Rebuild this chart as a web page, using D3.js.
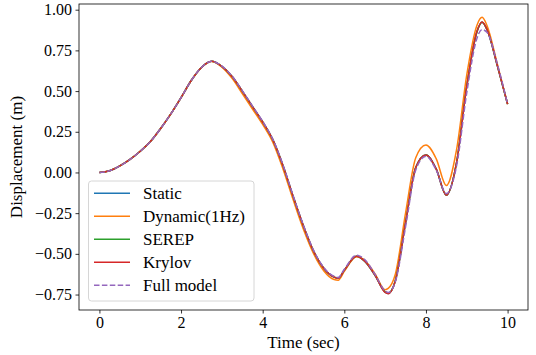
<!DOCTYPE html>
<html>
<head>
<meta charset="utf-8">
<script src="https://cdn.jsdelivr.net/npm/d3@7"></script>
<style>
  html, body { margin: 0; padding: 0; background: #fff; }
  svg { display: block; }
  svg text { font-family: "Liberation Serif", "Times New Roman", serif; }
</style>
</head>
<body>
<svg id="chart" width="536" height="355"></svg>
<script>
// Sample times (s), with extra samples at the turning points
const time = [0, 0.25, 0.5, 0.75, 1, 1.25, 1.5, 1.75, 2, 2.25, 2.5, 2.75, 3, 3.25, 3.5, 3.75,
  4, 4.25, 4.5, 4.75, 5, 5.25, 5.5, 5.75, 5.85, 6, 6.3, 6.5, 6.75, 7, 7.075, 7.25, 7.5, 7.75,
  8, 8.25, 8.5, 8.75, 9, 9.25, 9.375, 9.5, 9.75, 10];

// Displacement (m) of each reduced model and the full model
const staticModel = [0, 0.01, 0.04, 0.08, 0.13, 0.19, 0.27, 0.36, 0.46, 0.565, 0.645, 0.683, 0.652, 0.59, 0.50, 0.405,
  0.31, 0.20, 0.04, -0.15, -0.33, -0.485, -0.59, -0.643, -0.65, -0.6, -0.515, -0.545, -0.63, -0.735, -0.743, -0.665, -0.31, 0.03,
  0.108, 0.022, -0.14, 0.06, 0.53, 0.865, 0.923, 0.875, 0.655, 0.42];
const dynamic1Hz = [0, 0.01, 0.04, 0.08, 0.13, 0.19, 0.27, 0.36, 0.46, 0.565, 0.645, 0.682, 0.647, 0.578, 0.485, 0.39,
  0.295, 0.185, 0.02, -0.17, -0.35, -0.50, -0.605, -0.658, -0.662, -0.608, -0.518, -0.54, -0.622, -0.72, -0.712, -0.625, -0.25, 0.09,
  0.168, 0.085, -0.08, 0.14, 0.60, 0.905, 0.953, 0.9, 0.665, 0.42];
const serep = [0, 0.01, 0.04, 0.08, 0.13, 0.19, 0.27, 0.36, 0.46, 0.565, 0.645, 0.683, 0.652, 0.59, 0.50, 0.405,
  0.31, 0.20, 0.04, -0.15, -0.33, -0.485, -0.59, -0.643, -0.65, -0.6, -0.515, -0.545, -0.63, -0.735, -0.743, -0.665, -0.31, 0.03,
  0.108, 0.022, -0.14, 0.06, 0.53, 0.865, 0.923, 0.875, 0.655, 0.42];
const krylov = [0, 0.01, 0.04, 0.08, 0.13, 0.19, 0.27, 0.36, 0.46, 0.565, 0.645, 0.683, 0.652, 0.59, 0.50, 0.405,
  0.31, 0.20, 0.04, -0.15, -0.33, -0.485, -0.59, -0.643, -0.65, -0.6, -0.515, -0.545, -0.63, -0.737, -0.745, -0.667, -0.31, 0.03,
  0.108, 0.022, -0.14, 0.06, 0.53, 0.867, 0.925, 0.877, 0.655, 0.42];
const fullModel = [0, 0.01, 0.04, 0.08, 0.13, 0.19, 0.27, 0.36, 0.46, 0.565, 0.645, 0.683, 0.653, 0.592, 0.503, 0.408,
  0.313, 0.203, 0.045, -0.145, -0.325, -0.48, -0.585, -0.638, -0.645, -0.595, -0.508, -0.535, -0.625, -0.728, -0.738, -0.672, -0.335, 0.015,
  0.10, 0.015, -0.13, 0.04, 0.49, 0.825, 0.878, 0.86, 0.665, 0.42];

const seriesNames = ["Static", "Dynamic(1Hz)", "SEREP", "Krylov", "Full model"];
const seriesColors = ["#1f77b4", "#ff7f0e", "#2ca02c", "#d62728", "#9467bd"];
const seriesValues = [staticModel, dynamic1Hz, serep, krylov, fullModel];
const seriesDash = [null, null, null, null, "5.5,2.4"];

const xTicks = [0, 2, 4, 6, 8, 10];
const yTicks = [-0.75, -0.5, -0.25, 0, 0.25, 0.5, 0.75, 1.0];

const serif = "'Liberation Serif', 'Times New Roman', serif";
const svg = d3.select("#chart");
const plot = { left: 79, right: 528, top: 4, bottom: 310 };

const x = d3.scaleLinear().domain([-0.5, 10.5]).range([plot.left, plot.right]);
const y = d3.scaleLinear().domain([-0.845, 1.035]).range([plot.bottom, plot.top]);

const line = d3.line()
  .x((d, i) => x(time[i]))
  .y(d => y(d))
  .curve(d3.curveMonotoneX);

svg.append("clipPath").attr("id", "clip")
  .append("rect")
  .attr("x", plot.left).attr("y", plot.top)
  .attr("width", plot.right - plot.left).attr("height", plot.bottom - plot.top);

const lines = svg.append("g").attr("clip-path", "url(#clip)");
seriesValues.forEach((vals, k) => {
  lines.append("path")
    .datum(vals)
    .attr("d", line)
    .attr("fill", "none")
    .attr("stroke", seriesColors[k])
    .attr("stroke-width", 1.5)
    .attr("stroke-dasharray", seriesDash[k])
    .attr("stroke-linejoin", "round");
});

// Axes
const fmtY = v => d3.format(".2f")(v).replace("-", "\u2212");
const xAxis = svg.append("g")
  .attr("transform", `translate(0,${plot.bottom})`)
  .call(d3.axisBottom(x).tickValues(xTicks).tickFormat(d3.format("d")).tickSizeOuter(0).tickSize(3.5).tickPadding(3.5));
const yAxis = svg.append("g")
  .attr("transform", `translate(${plot.left},0)`)
  .call(d3.axisLeft(y).tickValues(yTicks).tickFormat(fmtY).tickSizeOuter(0).tickSize(3.5).tickPadding(3.5));

[xAxis, yAxis].forEach(g => {
  g.attr("font-family", serif).attr("font-size", 16);
  g.select(".domain").remove();
  g.selectAll(".tick line").attr("stroke", "#000").attr("stroke-width", 0.8);
  g.selectAll(".tick text").attr("fill", "#000");
});

// Frame
svg.append("rect")
  .attr("x", plot.left).attr("y", plot.top)
  .attr("width", plot.right - plot.left).attr("height", plot.bottom - plot.top)
  .attr("fill", "none").attr("stroke", "#000").attr("stroke-width", 0.8);

// Axis titles
svg.append("text")
  .attr("x", (plot.left + plot.right) / 2).attr("y", 348)
  .attr("text-anchor", "middle")
  .attr("font-family", serif).attr("font-size", 17)
  .text("Time (sec)");
svg.append("text")
  .attr("transform", `translate(22,${(plot.top + plot.bottom) / 2}) rotate(-90)`)
  .attr("text-anchor", "middle")
  .attr("font-family", serif).attr("font-size", 17)
  .text("Displacement (m)");

// Legend
const legend = svg.append("g");
legend.append("rect")
  .attr("x", 88.5).attr("y", 181).attr("width", 165.5).attr("height", 120)
  .attr("rx", 3).attr("ry", 3)
  .attr("fill", "#fff").attr("fill-opacity", 0.8)
  .attr("stroke", "#ccc").attr("stroke-width", 0.8);
seriesNames.forEach((name, k) => {
  const cy = 193.3 + k * 23;
  legend.append("line")
    .attr("x1", 94).attr("x2", 130).attr("y1", cy).attr("y2", cy)
    .attr("stroke", seriesColors[k]).attr("stroke-width", 1.5)
    .attr("stroke-dasharray", seriesDash[k]);
  legend.append("text")
    .attr("x", 143).attr("y", cy + 5.5)
    .attr("font-family", serif).attr("font-size", 17)
    .text(name);
});
</script>
</body>
</html>
